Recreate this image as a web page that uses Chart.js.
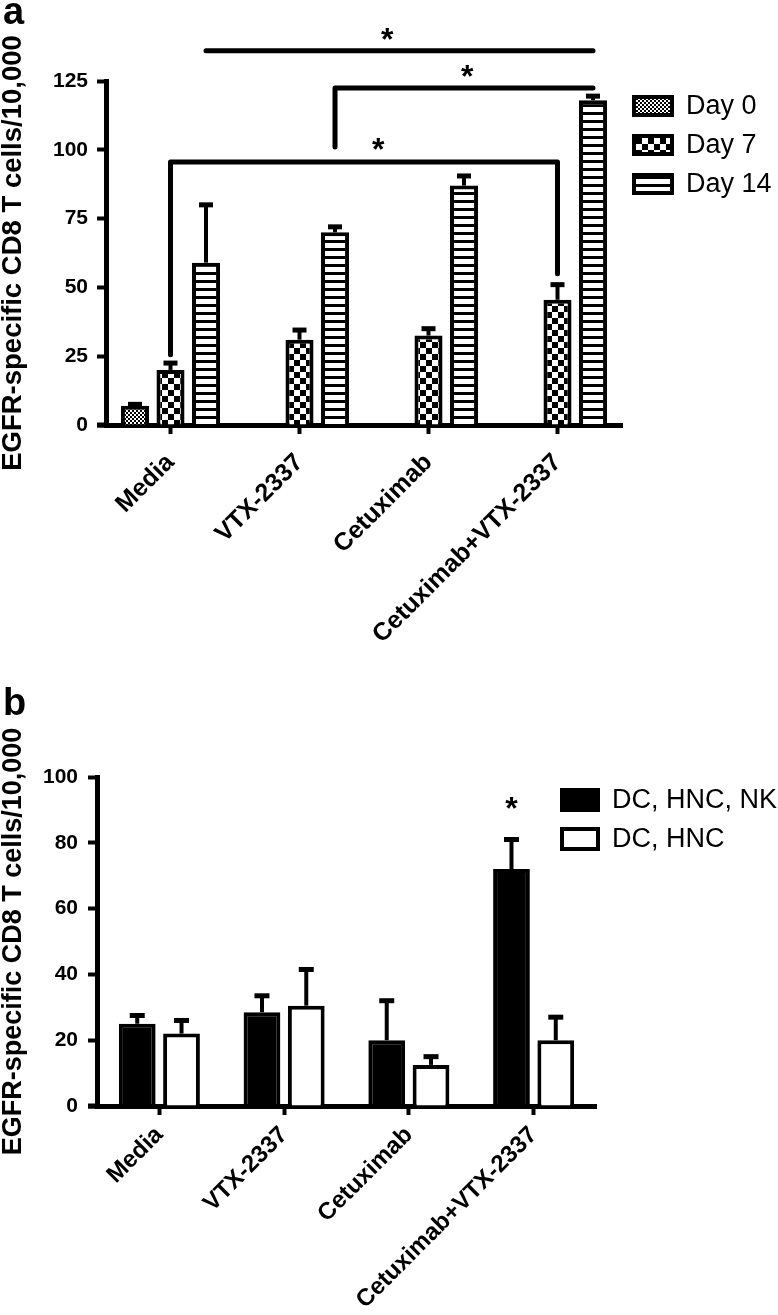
<!DOCTYPE html>
<html>
<head>
<meta charset="utf-8">
<script src="https://cdn.jsdelivr.net/npm/chart.js@4.4.1/dist/chart.umd.min.js"></script>
<style>
  body { margin: 0; background: #fff; }
  canvas { position: absolute; left: 0; display: block; }
  #chartA { top: 0; }
  #chartB { top: 640px; }
</style>
</head>
<body>
<canvas id="chartA" width="778" height="640"></canvas>
<canvas id="chartB" width="778" height="675"></canvas>
<script>
// categories shared by both panels
const categories = ['Media', 'VTX-2337', 'Cetuximab', 'Cetuximab+VTX-2337'];
const yTitle = 'EGFR-specific CD8 T cells/10,000';

// panel a: days in culture
const day0 = [7, null, null, null];
const day0Err = [0.5, null, null, null];
const day7 = [20, 31, 32.5, 45.5];
const day7Err = [2.5, 3.5, 2.5, 5.5];
const day14 = [59, 70, 87, 118];
const day14Err = [21, 2, 3.5, 1.5];
const ticksA = [0, 25, 50, 75, 100, 125];

// significance brackets for panel a: [category, dataset] ends, bar height, ends of the drops
const bracketsA = [
  { left: [0, 2], right: [3, 2], level: 136, leftEnd: 136, rightEnd: 136 },
  { left: [1, 2], right: [3, 2], level: 122.5, leftEnd: 101, rightEnd: 122.5 },
  { left: [0, 1], right: [3, 1], level: 95.6, leftEnd: 25.5, rightEnd: 55 }
];
// stars: [category position, value]
const starsA = [[1.68, 142], [2.3, 128.5], [1.61, 102]];

// panel b: with / without NK cells
const withNK = [25, 28.5, 20, 72];
const withNKErr = [2.5, 5, 12, 9];
const withoutNK = [22, 30.5, 12.5, 20];
const withoutNKErr = [4, 11, 2.5, 7];
const ticksB = [0, 20, 40, 60, 80, 100];
const starsB = [[3, 0, 92]]; // [category, dataset, value]

const FONT = '"Liberation Sans", Arial, sans-serif';

function makePattern(ctx, size, draw) {
  const c = document.createElement('canvas');
  c.width = size; c.height = size;
  const g = c.getContext('2d');
  draw(g, size);
  return ctx.createPattern(c, 'repeat');
}

const ctxA = document.getElementById('chartA').getContext('2d');
const ctxB = document.getElementById('chartB').getContext('2d');

const patDay0 = makePattern(ctxA, 4, (g) => {
  g.fillStyle = '#000'; g.fillRect(0, 0, 4, 4);
  g.fillStyle = '#fff'; g.fillRect(0, 0, 2, 2); g.fillRect(2, 2, 2, 2);
});
const patDay7 = makePattern(ctxA, 12, (g) => {
  g.fillStyle = '#000'; g.fillRect(0, 0, 12, 12);
  g.fillStyle = '#fff'; g.fillRect(0, 0, 6, 6); g.fillRect(6, 6, 6, 6);
});
const patDay14 = makePattern(ctxA, 8, (g) => {
  g.fillStyle = '#fff'; g.fillRect(0, 0, 8, 8);
  g.fillStyle = '#000'; g.fillRect(0, 0, 8, 3);
});

// error bars (upper only) drawn from the bar tops
const errorBars = {
  id: 'errorBars',
  afterDatasetsDraw(chart, args, opts) {
    const ctx = chart.ctx;
    const y = chart.scales.y;
    ctx.save();
    ctx.strokeStyle = '#000';
    chart.data.datasets.forEach((ds, i) => {
      if (!ds.errors) return;
      chart.getDatasetMeta(i).data.forEach((bar, j) => {
        const v = ds.data[j], e = ds.errors[j];
        if (v == null || e == null) return;
        const top = y.getPixelForValue(v + e);
        ctx.lineWidth = 4;
        ctx.beginPath();
        ctx.moveTo(bar.x, bar.y);
        ctx.lineTo(bar.x, top);
        ctx.stroke();
        ctx.lineWidth = 5;
        ctx.beginPath();
        ctx.moveTo(bar.x - opts.cap / 2, top);
        ctx.lineTo(bar.x + opts.cap / 2, top);
        ctx.stroke();
      });
    });
    ctx.restore();
  }
};

function drawStar(ctx, x, y) {
  ctx.font = 'bold 32px ' + FONT;
  ctx.textAlign = 'center';
  ctx.textBaseline = 'alphabetic';
  const m = ctx.measureText('*');
  ctx.fillText('*', x, y + (m.actualBoundingBoxAscent - m.actualBoundingBoxDescent) / 2);
}

const significance = {
  id: 'significance',
  afterDatasetsDraw(chart, args, opts) {
    const ctx = chart.ctx;
    const x = chart.scales.x, y = chart.scales.y;
    const barX = (ref) => chart.getDatasetMeta(ref[1]).data[ref[0]].x;
    ctx.save();
    ctx.strokeStyle = '#000';
    ctx.fillStyle = '#000';
    ctx.lineWidth = 5;
    ctx.lineJoin = 'round';
    ctx.lineCap = 'round';
    (opts.brackets || []).forEach((b) => {
      const xl = barX(b.left), xr = barX(b.right);
      ctx.beginPath();
      ctx.moveTo(xl, y.getPixelForValue(b.leftEnd));
      ctx.lineTo(xl, y.getPixelForValue(b.level));
      ctx.lineTo(xr, y.getPixelForValue(b.level));
      ctx.lineTo(xr, y.getPixelForValue(b.rightEnd));
      ctx.stroke();
    });
    (opts.stars || []).forEach((s) => {
      drawStar(ctx, x.getPixelForValue(s[0]), y.getPixelForValue(s[1]));
    });
    (opts.barStars || []).forEach((s) => {
      drawStar(ctx, barX([s[0], s[1]]), y.getPixelForValue(s[2]));
    });
    // the x axis line runs a little past the y axis, as in the figure
    const a = chart.chartArea;
    ctx.lineCap = 'butt';
    ctx.beginPath();
    ctx.moveTo(a.left - opts.stub, a.bottom);
    ctx.lineTo(a.left, a.bottom);
    ctx.stroke();
    ctx.restore();
  }
};

// legend boxes drawn with the dataset fills, plus the panel letter
const sideLegend = {
  id: 'sideLegend',
  afterDraw(chart, args, opts) {
    const ctx = chart.ctx;
    ctx.save();
    chart.data.datasets.forEach((ds, i) => {
      const top = opts.y + i * opts.gap;
      ctx.fillStyle = '#000';
      ctx.fillRect(opts.x, top, opts.w, opts.h);
      ctx.fillStyle = ds.backgroundColor;
      ctx.fillRect(opts.x + 4, top + 4, opts.w - 8, opts.h - 8);
      ctx.fillStyle = '#000';
      ctx.font = '27px ' + FONT;
      ctx.textAlign = 'left';
      ctx.textBaseline = 'middle';
      ctx.fillText(ds.label, opts.x + opts.w + 12, top + opts.h / 2 + 1);
    });
    ctx.font = 'bold 38px ' + FONT;
    ctx.textAlign = 'left';
    ctx.textBaseline = 'alphabetic';
    ctx.fillText(opts.letter, 3, opts.letterY);
    ctx.restore();
  }
};

function axes(ticks, max, yWidth, xHeight, labelPad, titleSize, xFont, xPad) {
  return {
    x: {
      afterFit: (s) => { s.height = xHeight; },
      grid: { display: true, offset: false, drawOnChartArea: false, drawTicks: true,
              tickLength: 9, tickWidth: 4, color: '#000' },
      border: { display: true, color: '#000', width: 5 },
      ticks: { color: '#000', font: { family: FONT, size: xFont, weight: 'bold' },
               minRotation: 45, maxRotation: 45, autoSkip: false, padding: xPad }
    },
    y: {
      min: 0, max: max,
      afterFit: (s) => { s.width = yWidth; },
      afterBuildTicks: (s) => { s.ticks = ticks.map((v) => ({ value: v })); },
      grid: { display: true, drawOnChartArea: false, drawTicks: true,
              tickLength: 9, tickWidth: 4, color: '#000' },
      border: { display: true, color: '#000', width: 5 },
      ticks: { color: '#000', font: { family: FONT, size: 21, weight: 'bold' }, padding: labelPad },
      title: { display: true, text: yTitle, color: '#000', padding: 0,
               font: { family: FONT, size: titleSize, weight: 'bold', lineHeight: 1 } }
    }
  };
}

new Chart(ctxA, {
  type: 'bar',
  data: {
    labels: categories,
    datasets: [
      { label: 'Day 0', data: day0, errors: day0Err, backgroundColor: patDay0 },
      { label: 'Day 7', data: day7, errors: day7Err, backgroundColor: patDay7 },
      { label: 'Day 14', data: day14, errors: day14Err, backgroundColor: patDay14 }
    ].map((d) => Object.assign(d, {
      borderColor: '#000', borderWidth: 4, borderSkipped: 'start',
      categoryPercentage: 0.826, barPercentage: 0.79
    }))
  },
  options: {
    responsive: false,
    animation: false,
    devicePixelRatio: 1,
    layout: { padding: { top: 81, right: 156, left: 0, bottom: 0 } },
    plugins: {
      legend: { display: false },
      tooltip: { enabled: false },
      errorBars: { cap: 14 },
      significance: { brackets: bracketsA, stars: starsA, stub: 9 },
      sideLegend: { x: 632, y: 95, w: 42, h: 22, gap: 39, letter: 'a', letterY: 24 }
    },
    scales: axes(ticksA, 125, 106, 215, 9, 27.5, 25, 14)
  },
  plugins: [errorBars, significance, sideLegend]
});

new Chart(ctxB, {
  type: 'bar',
  data: {
    labels: categories,
    datasets: [
      { label: 'DC, HNC, NK', data: withNK, errors: withNKErr, backgroundColor: '#000' },
      { label: 'DC, HNC', data: withoutNK, errors: withoutNKErr, backgroundColor: '#fff' }
    ].map((d) => Object.assign(d, {
      borderColor: '#000', borderWidth: 4, borderSkipped: 'start',
      categoryPercentage: 0.71, barPercentage: 0.83
    }))
  },
  options: {
    responsive: false,
    animation: false,
    devicePixelRatio: 1,
    layout: { padding: { top: 137, right: 182, left: 0, bottom: 0 } },
    plugins: {
      legend: { display: false },
      tooltip: { enabled: false },
      errorBars: { cap: 15 },
      significance: { barStars: starsB, stub: 9 },
      sideLegend: { x: 560, y: 148, w: 40, h: 24, gap: 39, letter: 'b', letterY: 75 }
    },
    scales: axes(ticksB, 100, 97, 209, 10, 27, 24, 6)
  },
  plugins: [errorBars, significance, sideLegend]
});
</script>
</body>
</html>
